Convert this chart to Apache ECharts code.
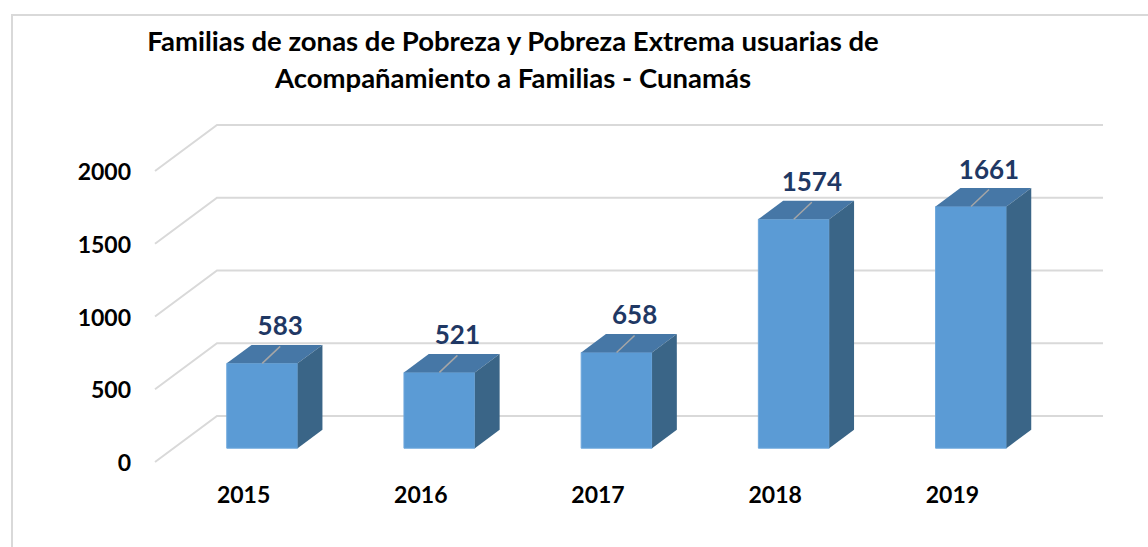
<!DOCTYPE html>
<html><head><meta charset="utf-8">
<script src="https://cdn.jsdelivr.net/npm/echarts@6/dist/echarts.min.js"></script>
<style>html,body{margin:0;padding:0;background:#fff}#c{width:1148px;height:547px}</style>
</head><body><div id="c"></div>
<script>
const categories = ['2015', '2016', '2017', '2018', '2019'];
const values = [583, 521, 658, 1574, 1661];
const yTicks = [0, 500, 1000, 1500, 2000];
const titleLines = ['Familias de zonas de Pobreza y Pobreza Extrema usuarias de', 'Acompañamiento a Familias - Cunamás'];

const DEPTH = [62, -46];
const BAR_D0 = 0.3, BAR_D1 = 0.7;
const FONT = 'Lato, "Open Sans", sans-serif';

function sh(x, y, d) { return [x + DEPTH[0] * d, y + DEPTH[1] * d]; }

const chart = echarts.init(document.getElementById('c'), null, { renderer: 'svg' });

const option = {
  backgroundColor: '#fff',
  animation: false,
  graphic: [
    { type: 'rect', z: -10, shape: { x: 12, y: 15, width: 1300, height: 700 },
      style: { fill: 'none', stroke: '#D9D9D9', lineWidth: 2 } },
    { type: 'text', x: 513, y: 40, style: { text: titleLines[0], textAlign: 'center', textVerticalAlign: 'middle',
      font: 'bold 27.5px ' + FONT, fill: '#000' } },
    { type: 'text', x: 513, y: 77, style: { text: titleLines[1], textAlign: 'center', textVerticalAlign: 'middle',
      font: 'bold 27.5px ' + FONT, fill: '#000' } }
  ],
  grid: { left: 155, right: 107, top: 171, bottom: 85, containLabel: false },
  xAxis: {
    type: 'category', data: categories, boundaryGap: true,
    axisLine: { show: false }, axisTick: { show: false }, splitLine: { show: false },
    axisLabel: { margin: 20, color: '#000', fontFamily: FONT, fontWeight: 'bold', fontSize: 23 }
  },
  yAxis: {
    type: 'value', min: 0, max: 2000, interval: 500,
    axisLine: { show: false }, axisTick: { show: false }, splitLine: { show: false },
    axisLabel: { margin: 24, color: '#000', fontFamily: FONT, fontWeight: 'bold', fontSize: 23,
      formatter: function (v) { return String(v); } }
  },
  series: [
    {
      type: 'custom', name: 'grid', silent: true, z: 1,
      data: yTicks.map(v => [0, v]),
      encode: { x: 0, y: 1 },
      renderItem: function (params, api) {
        const p = api.coord([0, api.value(1)]);
        const cs = params.coordSys;
        const y = p[1], x0 = cs.x, x1 = cs.x + cs.width;
        return { type: 'polyline', shape: { points: [[x0, y], sh(x0, y, 1), sh(x1, y, 1)] },
          style: { stroke: '#D9D9D9', lineWidth: 2, fill: 'none' } };
      }
    },
    {
      type: 'custom', name: 'Familias', z: 5,
      data: values.map((v, i) => [i, v]),
      encode: { x: 0, y: 1 },
      renderItem: function (params, api) {
        const i = api.value(0), v = api.value(1);
        const base = api.coord([i, 0]), top = api.coord([i, v]);
        const hw = api.size([1, 0])[0] * 0.2;
        const fl = base[0] - hw, fr = base[0] + hw, yb = base[1], yt = top[1];
        const front = [sh(fl, yb, BAR_D0), sh(fr, yb, BAR_D0), sh(fr, yt, BAR_D0), sh(fl, yt, BAR_D0)];
        const topF = [sh(fl, yt, BAR_D0), sh(fr, yt, BAR_D0), sh(fr, yt, BAR_D1), sh(fl, yt, BAR_D1)];
        const side = [sh(fr, yb, BAR_D0), sh(fr, yb, BAR_D1), sh(fr, yt, BAR_D1), sh(fr, yt, BAR_D0)];
        const c = sh(base[0], yt, BAR_D0);
        const e = [c[0] + 18, c[1] - 17];
        return {
          type: 'group',
          children: [
            { type: 'polygon', shape: { points: front }, style: { fill: '#5B9BD5', stroke: '#6FA8DC', lineWidth: 1 } },
            { type: 'polygon', shape: { points: topF }, style: { fill: '#4677A6' } },
            { type: 'polygon', shape: { points: side }, style: { fill: '#3A6587' } },
            { type: 'line', shape: { x1: c[0], y1: c[1], x2: e[0], y2: e[1] }, style: { stroke: '#A6A6A6', lineWidth: 1.5 } },
            { type: 'text', x: e[0], y: e[1] - 21, style: { text: String(v), textAlign: 'center', textVerticalAlign: 'middle',
              font: 'bold 26px ' + FONT, fill: '#1F3864' } }
          ]
        };
      }
    }
  ]
};
chart.setOption(option);
</script>
</body></html>
